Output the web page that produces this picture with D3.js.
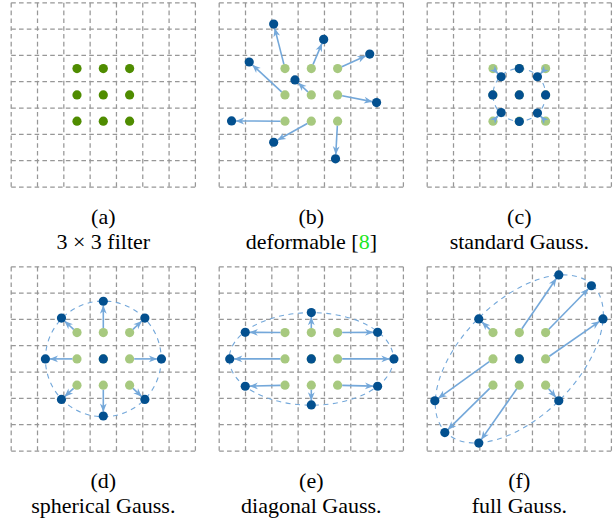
<!DOCTYPE html>
<html>
<head>
<meta charset="utf-8">
<script src="https://cdn.jsdelivr.net/npm/d3@7"></script>
<style>
  html, body { margin: 0; padding: 0; background: #fff; }
  svg { display: block; }
</style>
</head>
<body>
<svg id="fig" width="616" height="524"></svg>
<script>
// ---- data (cell units, origin at the filter centre, y pointing down) ----
const panelTags = ["(a)", "(b)", "(c)", "(d)", "(e)", "(f)"];
const panelNames = ["3 × 3 filter", "deformable [8]", "standard Gauss.",
                    "spherical Gauss.", "diagonal Gauss.", "full Gauss."];

// regular 3x3 sampling grid
const gridX = [-1, 0, 1, -1, 0, 1, -1, 0, 1];
const gridY = [-1, -1, -1, 0, 0, 0, 1, 1, 1];

// displaced sampling positions, one per grid point (same order as gridX/gridY)
const deformX = [-1.43, 0.47, 2.22, -2.36, -0.62, 2.48, -3.03, -1.43, 0.92];
const deformY = [-2.69, -2.11, -1.55, -1.25, -0.57, 0.29, 0.99, 1.80, 2.43];

const standardX = [-0.69, 0, 0.69, -1.01, 0, 1.0, -0.69, 0, 0.69];
const standardY = [-0.69, -1.0, -0.69, 0, 0, 0, 0.67, 1.01, 0.69];

const sphericalX = [-1.59, 0, 1.58, -2.2, 0, 2.21, -1.59, 0, 1.58];
const sphericalY = [-1.55, -2.19, -1.55, 0, 0, 0, 1.54, 2.17, 1.54];

const diagonalX = [-2.51, 0, 2.52, -3.1, 0, 3.14, -2.51, 0, 2.52];
const diagonalY = [-1.01, -1.76, -1.01, 0, 0, 0, 1.04, 1.75, 1.04];

const fullX = [-1.54, 1.5, 2.74, -3.21, 0, 3.18, -2.83, -1.54, 1.5];
const fullY = [-1.52, -3.19, -2.78, 1.59, 0, -1.52, 2.8, 3.2, 1.59];

// Gaussian envelopes: radii (cells) and rotation (degrees)
const envelopeRx = [null, null, 1.0, 2.2, 3.12, 3.95];
const envelopeRy = [null, null, 1.0, 2.2, 1.76, 2.19];
const envelopeAngle = [0, 0, 0, 0, 0, -45];

const sampleX = [null, deformX, standardX, sphericalX, diagonalX, fullX];
const sampleY = [null, deformY, standardY, sphericalY, diagonalY, fullY];

// ---- layout ----
const panelSize = 184.2;
const panelLeft = [11.2, 219.2, 427.2];
const panelTop = [2.8, 266.8];
const dotR = 4.6;

const colors = {
  grid: "#979797",
  baseDot: "#4f8c00",
  gridDot: "#a7c97f",
  sample: "#03508f",
  arrow: "#74a8da",
  envelope: "#74a8da",
  cite: "#1ee61e"
};

const svg = d3.select("#fig");

svg.append("defs").append("marker")
  .attr("id", "head")
  .attr("markerUnits", "userSpaceOnUse")
  .attr("viewBox", "-9 -4.5 10 9")
  .attr("refX", 0).attr("refY", 0)
  .attr("markerWidth", 10).attr("markerHeight", 9)
  .attr("orient", "auto")
  .append("path")
  .attr("d", "M0.5,0 L-8,-3.4 L-5.5,0 L-8,3.4 Z")
  .attr("fill", colors.arrow);

panelTags.forEach((tag, i) => {
  const col = i % 3, row = Math.floor(i / 3);
  const x0 = panelLeft[col], y0 = panelTop[row];
  const x = d3.scaleLinear().domain([-3.5, 3.5]).range([x0, x0 + panelSize]);
  const y = d3.scaleLinear().domain([-3.5, 3.5]).range([y0, y0 + panelSize]);
  const cell = x(1) - x(0);
  const g = svg.append("g").attr("class", "panel");

  // dashed 7x7 grid
  const ticks = d3.range(-3.5, 3.51, 1);
  g.selectAll(".v").data(ticks).join("line")
    .attr("x1", d => x(d)).attr("x2", d => x(d))
    .attr("y1", y(-3.5)).attr("y2", y(3.5));
  g.selectAll(".h").data(ticks).join("line").attr("class", "h")
    .attr("x1", x(-3.5)).attr("x2", x(3.5))
    .attr("y1", d => y(d)).attr("y2", d => y(d));
  g.selectAll("line")
    .attr("stroke", colors.grid)
    .attr("stroke-width", 1.25)
    .attr("stroke-dasharray", "4.6,3.2");

  const idx = d3.range(gridX.length);

  if (i === 0) {
    g.selectAll(".base").data(idx).join("circle")
      .attr("cx", k => x(gridX[k])).attr("cy", k => y(gridY[k]))
      .attr("r", dotR).attr("fill", colors.baseDot);
  } else {
    const sx = sampleX[i], sy = sampleY[i];

    if (envelopeRx[i] !== null) {
      g.append("ellipse")
        .attr("cx", x(0)).attr("cy", y(0))
        .attr("rx", envelopeRx[i] * cell).attr("ry", envelopeRy[i] * cell)
        .attr("transform", `rotate(${envelopeAngle[i]},${x(0)},${y(0)})`)
        .attr("fill", "none")
        .attr("stroke", colors.envelope)
        .attr("stroke-width", 1.1)
        .attr("stroke-dasharray", "5,4.5");
    }

    g.selectAll(".grid-dot").data(idx).join("circle")
      .attr("cx", k => x(gridX[k])).attr("cy", k => y(gridY[k]))
      .attr("r", dotR).attr("fill", colors.gridDot);

    // arrows from each grid point to its sampling position
    const moved = idx.filter(k => Math.hypot(sx[k] - gridX[k], sy[k] - gridY[k]) > 0.2);
    g.selectAll(".arrow").data(moved).join("line")
      .each(function (k) {
        const ax = x(gridX[k]), ay = y(gridY[k]);
        const bx = x(sx[k]), by = y(sy[k]);
        const len = Math.hypot(bx - ax, by - ay);
        const ux = (bx - ax) / len, uy = (by - ay) / len;
        const startOff = Math.min(dotR, len / 2 - 0.5);
        d3.select(this)
          .attr("x1", ax + ux * startOff).attr("y1", ay + uy * startOff)
          .attr("x2", bx - ux * dotR).attr("y2", by - uy * dotR);
      })
      .attr("stroke", colors.arrow)
      .attr("stroke-width", 1.6)
      .attr("marker-end", "url(#head)");

    g.selectAll(".sample").data(idx).join("circle")
      .attr("cx", k => x(sx[k])).attr("cy", k => y(sy[k]))
      .attr("r", dotR).attr("fill", colors.sample);
  }

  // caption
  const cx = x(0);
  const base = y0 + panelSize + 37;
  const cap = svg.append("g")
    .attr("font-family", "'Liberation Serif', 'Times New Roman', serif")
    .attr("font-size", 22)
    .attr("fill", "#000")
    .attr("text-anchor", "middle");
  cap.append("text").attr("x", cx).attr("y", base).text(tag);
  const t = cap.append("text").attr("x", cx).attr("y", base + 25);
  const m = panelNames[i].match(/^(.*\[)(\d+)(\].*)$/);
  if (m) {
    t.append("tspan").text(m[1]);
    t.append("tspan").attr("fill", colors.cite).text(m[2]);
    t.append("tspan").text(m[3]);
  } else {
    t.text(panelNames[i]);
  }
});
</script>
</body>
</html>
